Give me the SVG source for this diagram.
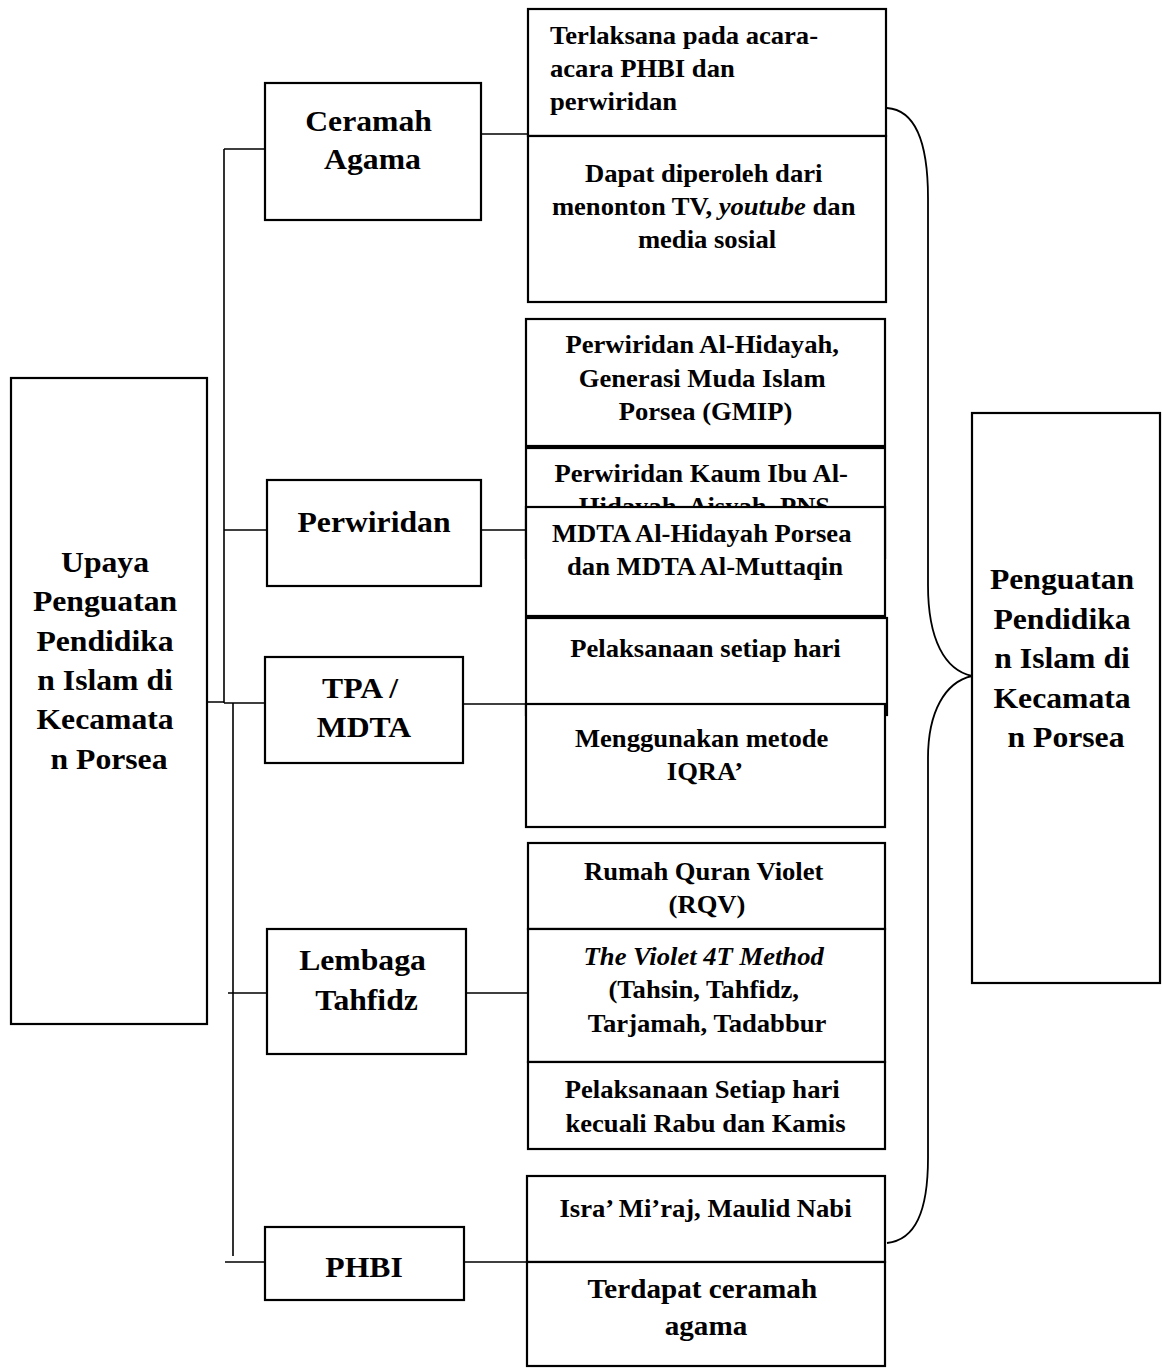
<svg xmlns="http://www.w3.org/2000/svg" width="1162" height="1368" viewBox="0 0 1162 1368">
  <style>
    .box{fill:#fff;stroke:#000;stroke-width:2.2}
    .link{fill:none;stroke:#000;stroke-width:1.6}
    .brace{fill:none;stroke:#000;stroke-width:1.8}
    text{font-family:"Liberation Serif","Times New Roman",serif;font-weight:bold;fill:#000}
    .big{font-size:28.8px;text-anchor:middle}
    .sm{font-size:24.2px;text-anchor:middle}
    .lft{text-anchor:start}
    .it{font-style:italic}
  </style>
  <rect width="1162" height="1368" fill="#fff"/>

  <!-- connectors -->
  <g id="connectors">
    <path class="link" d="M224,149 H265 M224,149 V703 M207,702 H224 M224,703 H265 M233,703 V1256 M224,530 H267 M228,993 H267 M225,1262 H265"/>
    <path class="link" d="M480,134 H528 M481,530 H526 M463,704 H526 M466,993 H528 M464,1262 H527"/>
    <path class="brace" d="M887,108 C915,110 928,140 928,198 L928,585 C928,640 945,670 972,676 C945,682 928,712 928,758 L928,1158 C928,1212 915,1240 887,1243"/>
  </g>

  <!-- left: main effort -->
  <g id="upaya">
    <rect class="box" x="11" y="378" width="196" height="646"/>
    <text class="big" transform="matrix(1.1 0 0 1 109 0)">
      <tspan x="0" y="572">Upaya</tspan>
      <tspan x="0" y="611.5">Penguatan</tspan>
      <tspan x="0" y="651">Pendidika</tspan>
      <tspan x="0" y="690">n Islam di</tspan>
      <tspan x="0" y="729.5">Kecamata</tspan>
      <tspan x="0" y="769">n Porsea</tspan>
    </text>
  </g>

  <!-- middle column: activities -->
  <g id="ceramah">
    <rect class="box" x="265" y="83" width="216" height="137"/>
    <text class="big" transform="matrix(1.1 0 0 1 372.5 0)">
      <tspan x="0" y="131">Ceramah</tspan>
      <tspan x="0" y="169">Agama</tspan>
    </text>
  </g>
  <g id="perwiridan">
    <rect class="box" x="267" y="480" width="214" height="106"/>
    <text class="big" transform="matrix(1.1 0 0 1 374 0)"><tspan x="0" y="532">Perwiridan</tspan></text>
  </g>
  <g id="tpa">
    <rect class="box" x="265" y="657" width="198" height="106"/>
    <text class="big" transform="matrix(1.1 0 0 1 364 0)">
      <tspan x="0" y="698">TPA /</tspan>
      <tspan x="0" y="737">MDTA</tspan>
    </text>
  </g>
  <g id="lembaga">
    <rect class="box" x="267" y="929" width="199" height="125"/>
    <text class="big" transform="matrix(1.1 0 0 1 366.5 0)">
      <tspan x="0" y="970">Lembaga</tspan>
      <tspan x="0" y="1010">Tahfidz</tspan>
    </text>
  </g>
  <g id="phbi">
    <rect class="box" x="265" y="1227" width="199" height="73"/>
    <text class="big" transform="matrix(1.1 0 0 1 364 0)"><tspan x="0" y="1277">PHBI</tspan></text>
  </g>

  <!-- right column: details -->
  <g id="d-terlaksana">
    <rect class="box" x="528" y="9" width="358" height="127"/>
    <text class="sm lft" transform="matrix(1.1 0 0 1 550 0)">
      <tspan x="0" y="44">Terlaksana pada acara-</tspan>
      <tspan x="0" y="77">acara PHBI dan</tspan>
      <tspan x="0" y="110">perwiridan</tspan>
    </text>
  </g>
  <g id="d-media">
    <rect class="box" x="528" y="136" width="358" height="166"/>
    <text class="sm" transform="matrix(1.1 0 0 1 707 0)">
      <tspan x="0" y="182">Dapat diperoleh dari</tspan>
      <tspan x="0" y="215">menonton TV, <tspan class="it">youtube</tspan> dan</tspan>
      <tspan x="0" y="248">media sosial</tspan>
    </text>
  </g>
  <g id="d-gmip">
    <rect class="box" x="526" y="319" width="359" height="127"/>
    <text class="sm" transform="matrix(1.1 0 0 1 705.5 0)">
      <tspan x="0" y="353">Perwiridan Al-Hidayah,</tspan>
      <tspan x="0" y="387">Generasi Muda Islam</tspan>
      <tspan x="0" y="420">Porsea (GMIP)</tspan>
    </text>
  </g>
  <g id="d-kaum-ibu">
    <rect class="box" x="526" y="448" width="359" height="110"/>
    <text class="sm" transform="matrix(1.1 0 0 1 704.5 0)">
      <tspan x="0" y="482">Perwiridan Kaum Ibu Al-</tspan>
      <tspan x="0" y="515">Hidayah, Aisyah, PNS</tspan>
    </text>
  </g>
  <g id="d-mdta">
    <rect class="box" x="526" y="507" width="359" height="109"/>
    <text class="sm" transform="matrix(1.1 0 0 1 705 0)">
      <tspan x="0" y="542">MDTA Al-Hidayah Porsea</tspan>
      <tspan x="0" y="575">dan MDTA Al-Muttaqin</tspan>
    </text>
  </g>
  <g id="d-harian">
    <rect class="box" x="526" y="618" width="361" height="97"/>
    <text class="sm" transform="matrix(1.1 0 0 1 705.5 0)"><tspan x="0" y="657">Pelaksanaan setiap hari</tspan></text>
  </g>
  <g id="d-iqra">
    <rect class="box" x="526" y="704" width="359" height="123"/>
    <text class="sm" transform="matrix(1.1 0 0 1 705 0)">
      <tspan x="0" y="747">Menggunakan metode</tspan>
      <tspan x="0" y="780">IQRA’</tspan>
    </text>
  </g>
  <g id="d-rqv">
    <rect class="box" x="528" y="843" width="357" height="86"/>
    <text class="sm" transform="matrix(1.1 0 0 1 707 0)">
      <tspan x="0" y="880">Rumah Quran Violet</tspan>
      <tspan x="0" y="913">(RQV)</tspan>
    </text>
  </g>
  <g id="d-4t">
    <rect class="box" x="528" y="929" width="357" height="133"/>
    <text class="sm" transform="matrix(1.1 0 0 1 707 0)">
      <tspan x="0" y="965" class="it">The Violet 4T Method</tspan>
      <tspan x="0" y="998">(Tahsin, Tahfidz,</tspan>
      <tspan x="0" y="1032">Tarjamah, Tadabbur</tspan>
    </text>
  </g>
  <g id="d-jadwal">
    <rect class="box" x="528" y="1062" width="357" height="87"/>
    <text class="sm" transform="matrix(1.1 0 0 1 705.5 0)">
      <tspan x="0" y="1098">Pelaksanaan Setiap hari</tspan>
      <tspan x="0" y="1132">kecuali Rabu dan Kamis</tspan>
    </text>
  </g>
  <g id="d-isra">
    <rect class="box" x="527" y="1176" width="358" height="86"/>
    <text class="sm" transform="matrix(1.1 0 0 1 705.5 0)"><tspan x="0" y="1217">Isra’ Mi’raj, Maulid Nabi</tspan></text>
  </g>
  <g id="d-ceramah">
    <rect class="box" x="527" y="1262" width="358" height="104"/>
    <text class="sm" style="font-size:26.5px" transform="matrix(1.1 0 0 1 706 0)">
      <tspan x="0" y="1298">Terdapat ceramah</tspan>
      <tspan x="0" y="1335">agama</tspan>
    </text>
  </g>

  <!-- outcome -->
  <g id="penguatan">
    <rect class="box" x="972" y="413" width="188" height="570"/>
    <text class="big" transform="matrix(1.1 0 0 1 1066 0)">
      <tspan x="0" y="589">Penguatan</tspan>
      <tspan x="0" y="629">Pendidika</tspan>
      <tspan x="0" y="668">n Islam di</tspan>
      <tspan x="0" y="708">Kecamata</tspan>
      <tspan x="0" y="747">n Porsea</tspan>
    </text>
  </g>
</svg>
